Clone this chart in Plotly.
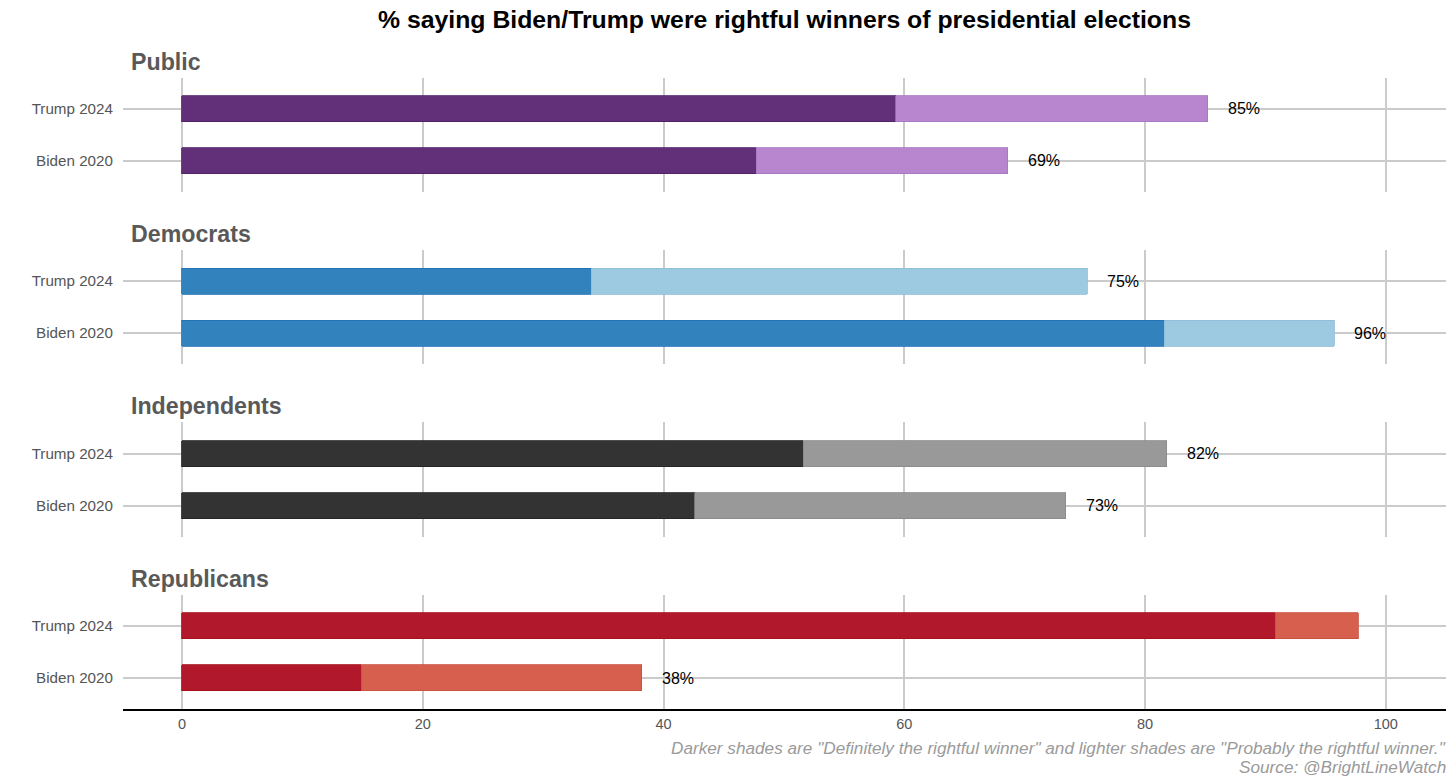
import plotly.graph_objects as go

# ---- data ----
groups = ["Public", "Democrats", "Independents", "Republicans"]
categories = ["Biden 2020", "Trump 2024"]          # bottom -> top within each panel
definitely = {
    "Public":       [47.7, 59.3],
    "Democrats":    [81.6, 34.0],
    "Independents": [42.6, 51.6],
    "Republicans":  [14.9, 90.8],
}
probably = {
    "Public":       [20.9, 25.9],
    "Democrats":    [14.1, 41.2],
    "Independents": [30.8, 30.2],
    "Republicans":  [23.3, 6.9],
}
labels = {
    "Public":       ["69%", "85%"],
    "Democrats":    ["96%", "75%"],
    "Independents": ["73%", "82%"],
    "Republicans":  ["38%", ""],
}
x_ticks = [0, 20, 40, 60, 80, 100]

# ---- styles ----
dark_colors = {"Public": "#622F79", "Democrats": "#3182BD", "Independents": "#333333", "Republicans": "#B2182B"}
light_colors = {"Public": "#B886CF", "Democrats": "#9ECAE1", "Independents": "#999999", "Republicans": "#D6604D"}
dark_lines = {"Public": "#4E1F66", "Democrats": "#2171B5", "Independents": "#222222", "Republicans": "#A50F15"}
light_lines = {"Public": "#A874C2", "Democrats": "#8BBCD8", "Independents": "#888888", "Republicans": "#C9503E"}

H = 784.0
panel_tops = [77.5, 249.9, 422.4, 594.8]
panel_h = 114.4
FONT = "Liberation Sans, Arial, Helvetica, sans-serif"
GRID = "#CBCBCB"

fig = go.Figure()
annotations = []
for i, g in enumerate(groups):
    ax = "" if i == 0 else str(i + 1)
    xa, ya = "x" + ax, "y" + ax
    fig.add_trace(go.Bar(
        y=categories, x=definitely[g], orientation="h", width=0.5,
        marker=dict(color=dark_colors[g], line=dict(color=dark_lines[g], width=0.8)),
        xaxis=xa, yaxis=ya, showlegend=False, name="Definitely"))
    fig.add_trace(go.Bar(
        y=categories, x=probably[g], orientation="h", width=0.5,
        marker=dict(color=light_colors[g], line=dict(color=light_lines[g], width=0.8)),
        xaxis=xa, yaxis=ya, showlegend=False, name="Probably"))
    for c, d, p, lab in zip(categories, definitely[g], probably[g], labels[g]):
        if lab:
            annotations.append(dict(
                x=d + p, y=c, xref=xa, yref=ya, text=lab, showarrow=False,
                xanchor="left", yanchor="middle", xshift=18,
                font=dict(family=FONT, size=16, color="#000000")))
    top = panel_tops[i]
    bot = top + panel_h
    dom = [1 - bot / H, 1 - top / H]
    last = i == len(groups) - 1
    fig.layout["xaxis" + ax] = dict(
        domain=[0, 1], range=[-4.9, 105], anchor=ya,
        tickvals=x_ticks, showticklabels=last,
        showgrid=True, gridcolor=GRID, gridwidth=1.6, zeroline=False,
        showline=last, linecolor="#000000", linewidth=2,
        tickfont=dict(family=FONT, size=14.5, color="#555555"),
        ticks="", fixedrange=True)
    fig.layout["yaxis" + ax] = dict(
        domain=dom, anchor=xa, type="category", categoryorder="array",
        categoryarray=categories, range=[-0.6, 1.6],
        showgrid=True, gridcolor=GRID, gridwidth=1.6, zeroline=False,
        tickfont=dict(family=FONT, size=15.2, color="#555555"),
        ticks="outside", ticklen=6, tickcolor="rgba(0,0,0,0)", fixedrange=True)
    annotations.append(dict(
        x=0, y=1 - (top - 16) / H, xref="paper", yref="paper", text="<b>%s</b>" % g,
        showarrow=False, xanchor="left", yanchor="middle", xshift=6,
        font=dict(family=FONT, size=23.2, color="#595959")))

annotations.append(dict(
    x=0.5, y=1 - 19 / H, xref="paper", yref="paper",
    text="<b>% saying Biden/Trump were rightful winners of presidential elections</b>",
    showarrow=False, xanchor="center", yanchor="middle",
    font=dict(family=FONT, size=24.8, color="#000000")))
annotations.append(dict(
    x=1, y=1 - 747.5 / H, xref="paper", yref="paper",
    text='<i>Darker shades are "Definitely the rightful winner" and lighter shades are "Probably the rightful winner."</i>',
    showarrow=False, xanchor="right", yanchor="middle", xshift=2,
    font=dict(family=FONT, size=17.2, color="#9A9A9A")))
annotations.append(dict(
    x=1, y=1 - 767 / H, xref="paper", yref="paper",
    text="<i>Source: @BrightLineWatch</i>",
    showarrow=False, xanchor="right", yanchor="middle", xshift=2,
    font=dict(family=FONT, size=17.2, color="#9A9A9A")))

fig.update_layout(
    width=1456, height=784, barmode="stack",
    margin=dict(l=123, r=10, t=0, b=0),
    paper_bgcolor="#FFFFFF", plot_bgcolor="#FFFFFF",
    annotations=annotations, showlegend=False,
    font=dict(family=FONT),
)
fig.write_html("out.html")
